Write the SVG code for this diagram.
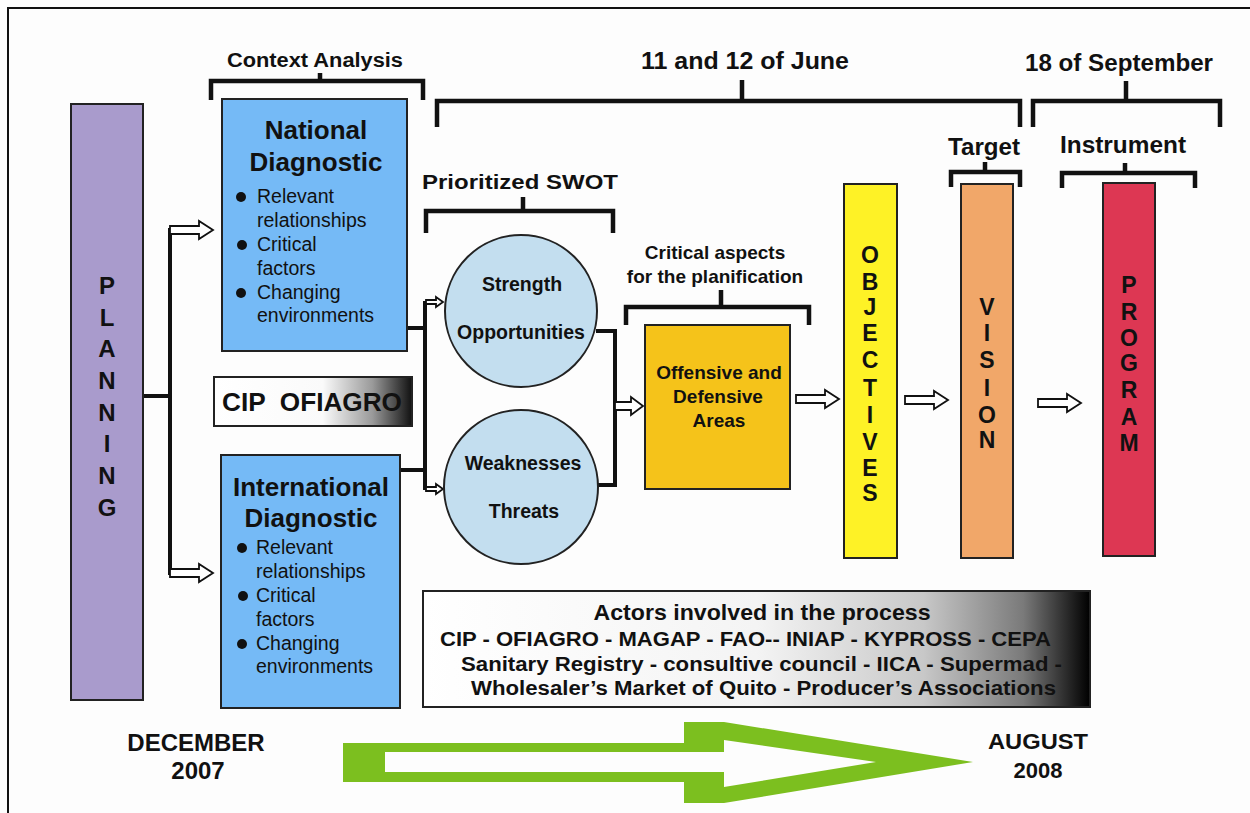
<svg xmlns="http://www.w3.org/2000/svg" width="1250" height="813" viewBox="0 0 1250 813">
<style>
.b{font-family:"Liberation Sans",Arial,sans-serif;font-weight:bold;fill:#111}
.r{font-family:"Liberation Sans",Arial,sans-serif;fill:#111}
.br{fill:none;stroke:#111;stroke-width:4.5}
.ln{fill:none;stroke:#111;stroke-width:4}
.box{stroke:#222;stroke-width:2}
.arr{fill:#fff;stroke:#111;stroke-width:1.8}
.m{text-anchor:middle}
</style>
<defs>
<linearGradient id="gCip" x1="0" x2="1" y1="0" y2="0">
<stop offset="0" stop-color="#fff"/><stop offset="0.55" stop-color="#fafafa"/><stop offset="0.8" stop-color="#9a9a9a"/><stop offset="1" stop-color="#111"/>
</linearGradient>
<linearGradient id="gAct" x1="0" x2="1" y1="0" y2="0">
<stop offset="0" stop-color="#fff"/><stop offset="0.5" stop-color="#f4f4f4"/><stop offset="0.75" stop-color="#c8c8c8"/><stop offset="0.9" stop-color="#7a7a7a"/><stop offset="1" stop-color="#000"/>
</linearGradient>
<path id="arrM" d="M0,-4 H29 V-9 L43,0 L29,9 V4 H0 Z"/>
<path id="arrS" d="M0,-2 H10 V-5 L17,0 L10,5 V2 H0 Z"/>
</defs>
<rect width="1250" height="813" fill="#fdfdfd"/>
<path d="M8,813 V8 H1250" fill="none" stroke="#111" stroke-width="2"/>

<g id="brackets">
<path class="br" d="M211,100 V81 H423 V100 M320,81 V73"/>
<text class="b m" x="315" y="67" font-size="20" textLength="176" lengthAdjust="spacingAndGlyphs">Context Analysis</text>
<path class="br" d="M437,127 V101 H1020 V127 M742,101 V80"/>
<text class="b m" x="745" y="69" font-size="23" textLength="208" lengthAdjust="spacingAndGlyphs">11 and 12 of June</text>
<path class="br" d="M1033,127 V101 H1220 V127 M1126,101 V81"/>
<text class="b m" x="1119" y="71" font-size="23" textLength="188" lengthAdjust="spacingAndGlyphs">18 of September</text>
<path class="br" d="M951,187 V172 H1020 V187 M985,172 V162"/>
<text class="b m" x="984" y="155" font-size="23" textLength="72" lengthAdjust="spacingAndGlyphs">Target</text>
<path class="br" d="M1062,188 V173 H1195 V188 M1125,173 V163"/>
<text class="b m" x="1123" y="153" font-size="23" textLength="126" lengthAdjust="spacingAndGlyphs">Instrument</text>
<path class="br" d="M426,233 V211 H613 V233 M523,211 V197"/>
<text class="b m" x="520" y="189" font-size="21" textLength="196" lengthAdjust="spacingAndGlyphs">Prioritized SWOT</text>
<path class="br" d="M626,325 V307 H809 V325 M721,307 V290"/>
<text class="b m" x="715" y="259" font-size="19">Critical aspects</text>
<text class="b m" x="715" y="283" font-size="19">for the planification</text>
</g>

<g id="connectors">
<path class="ln" d="M143,396 H170 M170,228 V575"/>
<path class="ln" d="M407,328 H425 M425,301 V490 M400,470 H425"/>
<path class="ln" d="M596,331 H615 V485 H597"/>
<use href="#arrM" class="arr" x="170" y="230"/>
<use href="#arrM" class="arr" x="170" y="573"/>
<use href="#arrS" class="arr" x="426" y="302"/>
<use href="#arrS" class="arr" x="426" y="489"/>
<path class="arr" d="M615,402 H631 V397 L643,406 L631,415 V410 H615 Z"/>
<use href="#arrM" class="arr" x="796" y="399"/>
<use href="#arrM" class="arr" x="905" y="400"/>
<use href="#arrM" class="arr" x="1038" y="403"/>
</g>

<g id="planning">
<rect class="box" x="71" y="104" width="72" height="596" fill="#a99bcc"/>
<g class="b m" font-size="24">
<text x="107" y="294">P</text><text x="107" y="326">L</text><text x="107" y="357">A</text><text x="107" y="389">N</text><text x="107" y="421">N</text><text x="107" y="452">I</text><text x="107" y="484">N</text><text x="107" y="516">G</text>
</g>
</g>

<g id="national">
<rect class="box" x="222" y="99" width="185" height="252" fill="#75baf6"/>
<text class="b m" x="316" y="139" font-size="26">National</text>
<text class="b m" x="316" y="171" font-size="26">Diagnostic</text>
<g fill="#111"><circle cx="241" cy="197" r="5"/><circle cx="242" cy="245" r="5"/><circle cx="241" cy="293" r="5"/></g>
<g class="r" font-size="19.5">
<text x="257" y="203">Relevant</text><text x="257" y="227">relationships</text><text x="257" y="251">Critical</text><text x="257" y="275">factors</text><text x="257" y="299">Changing</text><text x="257" y="322">environments</text>
</g>
</g>

<g id="cip">
<rect x="214" y="377" width="198" height="49" fill="url(#gCip)" stroke="#222" stroke-width="2"/>
<text class="b" x="222" y="411" font-size="25" xml:space="preserve" textLength="180" lengthAdjust="spacingAndGlyphs">CIP  OFIAGRO</text>
</g>

<g id="international">
<rect class="box" x="221" y="455" width="179" height="253" fill="#75baf6"/>
<text class="b m" x="311" y="496" font-size="26">International</text>
<text class="b m" x="311" y="527" font-size="26">Diagnostic</text>
<g fill="#111"><circle cx="242" cy="548" r="5"/><circle cx="243" cy="596" r="5"/><circle cx="242" cy="644" r="5"/></g>
<g class="r" font-size="19.5">
<text x="256" y="554">Relevant</text><text x="256" y="578">relationships</text><text x="256" y="602">Critical</text><text x="256" y="626">factors</text><text x="256" y="650">Changing</text><text x="256" y="673">environments</text>
</g>
</g>

<g id="so">
<circle cx="521" cy="311" r="76" fill="#c3deef" stroke="#222" stroke-width="2"/>
<text class="b m" x="522" y="291" font-size="19.5">Strength</text>
<text class="b m" x="521" y="339" font-size="19.5">Opportunities</text>
</g>
<g id="wt">
<circle cx="521" cy="487" r="77" fill="#c3deef" stroke="#222" stroke-width="2"/>
<text class="b m" x="523" y="470" font-size="19.5">Weaknesses</text>
<text class="b m" x="524" y="518" font-size="19.5">Threats</text>
</g>

<g id="offensive">
<rect class="box" x="645" y="325" width="145" height="164" fill="#f5c31a"/>
<text class="b m" x="719" y="379" font-size="19">Offensive and</text>
<text class="b m" x="718" y="403" font-size="19">Defensive</text>
<text class="b m" x="719" y="427" font-size="19">Areas</text>
</g>

<g id="objectives">
<rect class="box" x="844" y="184" width="53" height="374" fill="#fef226"/>
<g class="b m" font-size="23">
<text x="870" y="263">O</text><text x="870" y="290">B</text><text x="870" y="315">J</text><text x="870" y="341">E</text><text x="870" y="368">C</text><text x="870" y="396">T</text><text x="870" y="423">I</text><text x="870" y="450">V</text><text x="870" y="476">E</text><text x="870" y="501">S</text>
</g>
</g>

<g id="vision">
<rect class="box" x="961" y="184" width="52" height="374" fill="#f1a769"/>
<g class="b m" font-size="23">
<text x="987" y="315">V</text><text x="987" y="341">I</text><text x="987" y="368">S</text><text x="987" y="396">I</text><text x="987" y="423">O</text><text x="987" y="448">N</text>
</g>
</g>

<g id="program">
<rect class="box" x="1103" y="183" width="52" height="373" fill="#dd3753"/>
<g class="b m" font-size="23">
<text x="1129" y="293">P</text><text x="1129" y="320">R</text><text x="1129" y="346">O</text><text x="1129" y="371">G</text><text x="1129" y="398">R</text><text x="1129" y="425">A</text><text x="1129" y="451">M</text>
</g>
</g>

<g id="actors">
<rect x="423" y="591" width="667" height="116" fill="url(#gAct)" stroke="#222" stroke-width="2"/>
<text class="b m" x="762" y="620" font-size="22" textLength="337" lengthAdjust="spacingAndGlyphs">Actors involved in the process</text>
<text class="b" x="440" y="646" font-size="20" textLength="611" lengthAdjust="spacingAndGlyphs">CIP - OFIAGRO - MAGAP - FAO-- INIAP - KYPROSS - CEPA</text>
<text class="b" x="461" y="671" font-size="20" textLength="601" lengthAdjust="spacingAndGlyphs">Sanitary Registry - consultive council - IICA - Supermad -</text>
<text class="b" x="471" y="695" font-size="20" textLength="585" lengthAdjust="spacingAndGlyphs">Wholesaler’s Market of Quito - Producer’s Associations</text>
</g>

<g id="timeline">
<path d="M343,743 H684 V722 H724 L973,762 L724,803 H684 V782 H343 Z M385,752 V772 H724 V787 L876,762 L724,740 V752 Z" fill="#7cbf1f" fill-rule="evenodd"/>
<text class="b m" x="196" y="751" font-size="24">DECEMBER</text>
<text class="b m" x="198" y="779" font-size="24">2007</text>
<text class="b m" x="1038" y="749" font-size="22" textLength="100" lengthAdjust="spacingAndGlyphs">AUGUST</text>
<text class="b m" x="1038" y="778" font-size="22">2008</text>
</g>
</svg>
